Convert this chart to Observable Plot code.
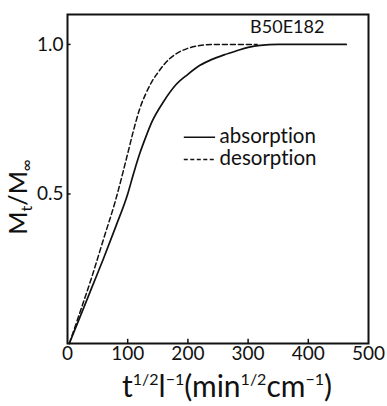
<!DOCTYPE html>
<html>
<head>
<meta charset="utf-8">
<script src="https://cdn.jsdelivr.net/npm/d3@7"></script>
<script src="https://cdn.jsdelivr.net/npm/@observablehq/plot@0.6"></script>
<style>
  html, body { margin: 0; padding: 0; background: #fff; }
  svg { display: block; font-variant-ligatures: none; }
</style>
</head>
<body>
<div id="chart"></div>
<script>
const FONT = "Lato, 'DejaVu Sans', sans-serif";

// absorption curve (solid)
const absX = [3, 20, 40, 60, 80, 100, 110, 120, 130, 140, 160, 180, 200, 220, 240, 260, 280, 300, 320, 350, 400, 463];
const absY = [0, 0.085, 0.185, 0.285, 0.39, 0.50, 0.57, 0.635, 0.69, 0.74, 0.81, 0.865, 0.90, 0.93, 0.95, 0.965, 0.978, 0.99, 0.997, 1.0, 1.0, 1.0];

// desorption curve (dashed)
const desX = [3, 20, 40, 60, 80, 100, 110, 120, 130, 140, 150, 160, 170, 180, 200, 220, 240, 270, 315];
const desY = [0, 0.10, 0.22, 0.35, 0.48, 0.635, 0.715, 0.785, 0.835, 0.875, 0.905, 0.932, 0.953, 0.968, 0.987, 0.996, 1.0, 1.0, 1.0];

const xTicks = [0, 100, 200, 300, 400, 500];
const yTicks = [0.5, 1.0];

const seriesNames = ["absorption", "desorption"];
const sampleLabel = "B50E182";

const absorption = absX.map((x, i) => ({x, y: absY[i]}));
const desorption = desX.map((x, i) => ({x, y: desY[i]}));

// legend entries (placed in data space)
const legend = [
  {name: seriesNames[0], x1: 194, x2: 246, y: 0.69},
  {name: seriesNames[1], x1: 194, x2: 246, y: 0.615}
];

const plot = Plot.plot({
  width: 387,
  height: 406,
  marginLeft: 67,
  marginRight: 19,
  marginTop: 14,
  marginBottom: 63,
  style: {fontFamily: FONT, color: "#111", background: "#fff"},
  x: {domain: [0, 500]},
  y: {domain: [0, 1.1]},
  marks: [
    Plot.frame({stroke: "#111", strokeWidth: 2}),
    Plot.axisX({ticks: xTicks, tickSize: 0, tickPadding: 3, fontSize: 19, label: null}),
    Plot.axisY({ticks: yTicks, tickSize: 0, tickPadding: 4, fontSize: 19, tickFormat: d3.format(".1f"), label: null}),
    Plot.ruleX(xTicks.slice(1, -1), {y1: 0, y2: 0.014, stroke: "#111", strokeWidth: 1.5}),
    Plot.ruleY(yTicks, {x1: 0, x2: 6, stroke: "#111", strokeWidth: 1.5}),
    Plot.line(absorption, {x: "x", y: "y", curve: "monotone-x", stroke: "#111", strokeWidth: 1.7}),
    Plot.line(desorption, {x: "x", y: "y", curve: "monotone-x", stroke: "#111", strokeWidth: 1.5, strokeDasharray: "5,3"}),
    Plot.ruleY(legend.slice(0, 1), {x1: "x1", x2: "x2", y: "y", stroke: "#111", strokeWidth: 1.5}),
    Plot.ruleY(legend.slice(1), {x1: "x1", x2: "x2", y: "y", stroke: "#111", strokeWidth: 1.5, strokeDasharray: "4,2.5"}),
    Plot.text(legend, {x: "x2", y: "y", text: "name", textAnchor: "start", dx: 4, dy: -1, fontSize: 20.5, fill: "#111"}),
    Plot.text([sampleLabel], {x: 365, y: 1.058, text: d => d, fontSize: 18, fill: "#111"})
  ]
});

document.getElementById("chart").appendChild(plot);

// Axis titles with sub/superscripts
const svg = d3.select(plot);
const xt = svg.append("text")
  .attr("x", 227).attr("y", 397)
  .attr("text-anchor", "middle")
  .attr("font-family", FONT)
  .attr("font-size", 30)
  .attr("fill", "#111");
xt.append("tspan").text("t");
xt.append("tspan").attr("dy", -12).attr("font-size", 16).text("1/2");
xt.append("tspan").attr("dy", 12).text("l");
xt.append("tspan").attr("dy", -12).attr("font-size", 16).text("−1");
xt.append("tspan").attr("dy", 12).text("(min");
xt.append("tspan").attr("dy", -12).attr("font-size", 16).text("1/2");
xt.append("tspan").attr("dy", 12).text("cm");
xt.append("tspan").attr("dy", -12).attr("font-size", 16).text("−1");
xt.append("tspan").attr("dy", 12).text(")");

const yt = svg.append("text")
  .attr("transform", "translate(27,197) rotate(-90)")
  .attr("text-anchor", "middle")
  .attr("font-family", FONT)
  .attr("font-size", 25)
  .attr("fill", "#111");
yt.append("tspan").text("M");
yt.append("tspan").attr("dy", 5).attr("font-size", 16).text("t");
yt.append("tspan").attr("dy", -5).text("/M");
yt.append("tspan").attr("dy", 5).attr("font-size", 16).text("∞");
</script>
</body>
</html>
